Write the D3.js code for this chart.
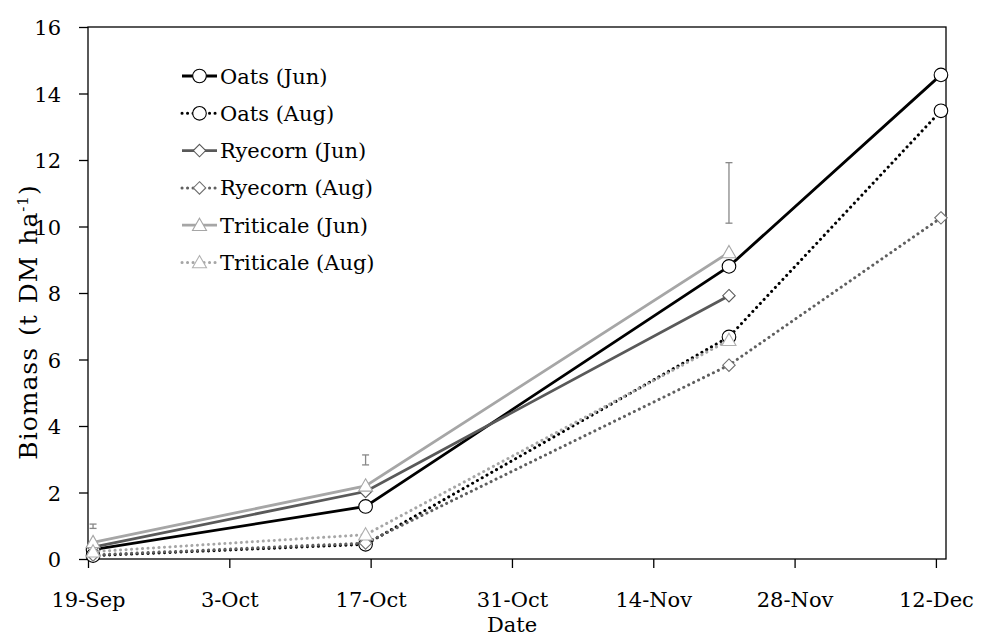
<!DOCTYPE html>
<html>
<head>
<meta charset="utf-8">
<script src="https://cdn.jsdelivr.net/npm/d3@7"></script>
<style>
  body { margin: 0; background: #fff; }
  svg text { font-family: "DejaVu Serif", "Liberation Serif", serif; fill: #000; }
</style>
</head>
<body>
<figure style="margin:0"></figure>
<script>
// sampling dates and the values (t DM/ha)
const dates = ["2019-09-19", "2019-10-16", "2019-11-21", "2019-12-12"]
const oatsJun = [0.28, 1.58, 8.8, 14.56]
const oatsAug = [0.1, 0.44, 6.68, 13.48]
const ryeJun = [0.36, 2.03, 7.92, null]
const ryeAug = [0.12, 0.48, 5.83, 10.26]
const tritJun = [0.5, 2.2, 9.22, null]
const tritAug = [0.22, 0.73, 6.58, null]
// grey LSD bars
const errLow = [0.92, 2.83, 10.1]
const errHigh = [1.05, 3.13, 11.92]

const tickDates = ["2019-09-19", "2019-10-03", "2019-10-17", "2019-10-31", "2019-11-14", "2019-11-28", "2019-12-12"]
const tickLabels = ["19-Sep", "3-Oct", "17-Oct", "31-Oct", "14-Nov", "28-Nov", "12-Dec"]
const yTicks = [0, 2, 4, 6, 8, 10, 12, 14, 16]

const parse = d3.utcParse("%Y-%m-%d")

const series = [
  {name: "Oats (Jun)", values: oatsJun, color: "#000000", mcolor: "#000000", dotted: false, shape: "circle"},
  {name: "Oats (Aug)", values: oatsAug, color: "#000000", mcolor: "#000000", dotted: true, shape: "circle"},
  {name: "Ryecorn (Jun)", values: ryeJun, color: "#595959", mcolor: "#595959", dotted: false, shape: "diamond"},
  {name: "Ryecorn (Aug)", values: ryeAug, color: "#5f5f5f", mcolor: "#6f6f6f", dotted: true, shape: "diamond"},
  {name: "Triticale (Jun)", values: tritJun, color: "#a6a6a6", mcolor: "#a6a6a6", dotted: false, shape: "triangle"},
  {name: "Triticale (Aug)", values: tritAug, color: "#a6a6a6", mcolor: "#b0b0b0", dotted: true, shape: "triangle"}
]

const W = 983, H = 637
const margin = {top: 27, right: 37, bottom: 78, left: 88}
const svg = d3.select("figure").append("svg").attr("width", W).attr("height", H)

const x = d3.scaleUtc()
    .domain([parse("2019-09-19"), parse("2019-12-13")])
    .range([margin.left, W - margin.right])
const y = d3.scaleLinear()
    .domain([0, 16])
    .range([H - margin.bottom, margin.top])
// date axis with points placed between tick marks (middle of the day)
const xp = d => x(d3.utcHour.offset(d, 12))

// frame
svg.append("rect")
    .attr("x", x.range()[0]).attr("y", y(16))
    .attr("width", x.range()[1] - x.range()[0])
    .attr("height", y(0) - y(16))
    .attr("fill", "none").attr("stroke", "#000").attr("stroke-width", 1.3)

const xAxis = svg.append("g")
    .attr("transform", "translate(0," + y(0) + ")")
    .call(d3.axisBottom(x)
      .tickValues(tickDates.map(parse))
      .tickFormat((d, i) => tickLabels[i])
      .tickSize(9).tickPadding(24))
const yAxis = svg.append("g")
    .attr("transform", "translate(" + margin.left + ",0)")
    .call(d3.axisLeft(y).tickValues(yTicks).tickSize(9).tickPadding(18))

svg.selectAll("g").attr("font-family", null)
svg.selectAll(".domain").remove()
svg.selectAll(".tick line").attr("stroke", "#000").attr("stroke-width", 1.3)
svg.selectAll(".tick text").attr("font-size", 21)
yAxis.selectAll(".tick text").attr("dy", "0.36em")

// axis titles
svg.append("text")
    .attr("x", 512).attr("y", 632)
    .attr("text-anchor", "middle").attr("font-size", 21)
    .text("Date")
const yt = svg.append("text")
    .attr("transform", "translate(37,322) rotate(-90)")
    .attr("text-anchor", "middle").attr("font-size", 25)
    .attr("letter-spacing", 1).attr("word-spacing", 2)
yt.append("tspan").text("Biomass (t DM ha")
yt.append("tspan").attr("dy", -9).attr("font-size", 15).text("-1")
yt.append("tspan").attr("dy", 9).text(")")

// error bars
const eb = svg.append("g").attr("stroke", "#888").attr("stroke-width", 1.3)
errLow.forEach((lo, i) => {
  const cx = xp(parse(dates[i]))
  eb.append("line").attr("x1", cx).attr("x2", cx).attr("y1", y(lo)).attr("y2", y(errHigh[i]))
  eb.append("line").attr("x1", cx - 3.5).attr("x2", cx + 3.5).attr("y1", y(lo)).attr("y2", y(lo))
  eb.append("line").attr("x1", cx - 3.5).attr("x2", cx + 3.5).attr("y1", y(errHigh[i])).attr("y2", y(errHigh[i]))
})

function marker(g, shape, cx, cy, color) {
  if (shape === "circle") {
    g.append("circle").attr("cx", cx).attr("cy", cy).attr("r", 6.8)
      .attr("fill", "#fff").attr("stroke", color).attr("stroke-width", 1.1)
  } else if (shape === "diamond") {
    const s = 6.2
    g.append("path").attr("d", `M${cx},${cy - s}L${cx + s},${cy}L${cx},${cy + s}L${cx - s},${cy}Z`)
      .attr("fill", "#fff").attr("stroke", color).attr("stroke-width", 1.1)
  } else {
    const s = 7
    g.append("path").attr("d", `M${cx},${cy - s}L${cx + s},${cy + s * 0.75}L${cx - s},${cy + s * 0.75}Z`)
      .attr("fill", "#fff").attr("stroke", color).attr("stroke-width", 1.1)
  }
}

const line = d3.line()
    .defined(d => d.v != null)
    .x(d => xp(d.date))
    .y(d => y(d.v))

series.forEach(s => {
  const pts = s.values.map((v, i) => ({date: parse(dates[i]), v: v}))
  const g = svg.append("g")
  g.append("path")
    .datum(pts)
    .attr("d", line)
    .attr("fill", "none")
    .attr("stroke", s.color)
    .attr("stroke-width", s.dotted ? 3 : 2.8)
    .attr("stroke-linecap", s.dotted ? "round" : "butt")
    .attr("stroke-dasharray", s.dotted ? "0.1 5.4" : null)
  pts.filter(d => d.v != null).forEach(d => marker(g, s.shape, xp(d.date), y(d.v), s.mcolor))
})

// legend
const lg = svg.append("g")
series.forEach((s, i) => {
  const ly = 76 + i * 37.3
  lg.append("line")
    .attr("x1", 182).attr("x2", 217).attr("y1", ly).attr("y2", ly)
    .attr("stroke", s.color)
    .attr("stroke-width", s.dotted ? 3 : 2.8)
    .attr("stroke-linecap", s.dotted ? "round" : "butt")
    .attr("stroke-dasharray", s.dotted ? "0.1 5.4" : null)
  marker(lg, s.shape, 199.5, ly, s.mcolor)
  lg.append("text")
    .attr("x", 220).attr("y", ly).attr("dy", "0.36em")
    .attr("font-size", 21)
    .text(s.name)
})
</script>
</body>
</html>
